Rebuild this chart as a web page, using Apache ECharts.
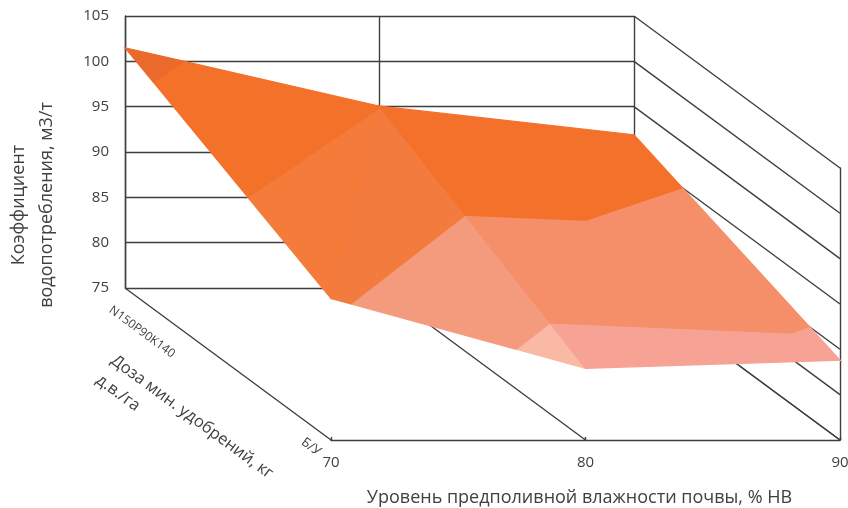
<!DOCTYPE html>
<html><head><meta charset="utf-8">
<style>html,body{margin:0;padding:0;background:#fff}#c{width:848px;height:508px}</style>
<script src="https://cdn.jsdelivr.net/npm/echarts@6/dist/echarts.min.js"></script>
</head><body><div id="c"></div>
<script>
// Data
const moisture = [70, 80, 90];
const doseLabels = ['N150P90K140', 'Б/У'];
const zBackRow = [101.5, 95.05, 91.9];   // N150P90K140
const zFrontRow = [90.6, 82.9, 83.8];    // Б/У
const valueTicks = [75, 80, 85, 90, 95, 100, 105];
const bandEdges = [75, 80, 85, 90, 95, 100, 105];
const xTitle = 'Уровень предполивной влажности почвы, % НВ';
const yTitle = 'Коэффициент\nводопотребления, м3/т';
const doseTitle = ['Доза мин. удобрений, кг', 'д.в./га'];

// Facet colours by band (75-80, 80-85, 85-90, 90-95, 95-100, 100-105)
const facetColors = [
  ['#f8b7a2', '#f8b7a2', '#f59c7e', '#f47b3a', '#f37129', '#ea6a2c'],
  ['#f9b9a5', '#f9b9a5', '#f59b7d', '#f37b3d', '#f37129', '#ea6a2c'],
  ['#f6a396', '#f6a396', '#f58f6a', '#f4712c', '#f4712c', '#f4712c'],
  ['#f6a396', '#f6a396', '#f58f6a', '#f4712c', '#f4712c', '#f4712c']
];

const DEPTH_X = 8.094, DEPTH_Z = 16.76;   // oblique depth, in axis units
const FONT = '"Open Sans", sans-serif', INK = '#404040', LINE = '#3f3f3f';

const V = (i, d) => ({x: moisture[i], d: d, z: d ? zFrontRow[i] : zBackRow[i]});
const facets = [
  [V(0,0), V(1,0), V(0,1)],
  [V(1,0), V(0,1), V(1,1)],
  [V(1,0), V(2,0), V(2,1)],
  [V(1,0), V(2,1), V(1,1)]
];
function clip(poly, level, keepAbove) {
  const out = [];
  poly.forEach((a, i) => {
    const b = poly[(i + 1) % poly.length];
    const ain = keepAbove ? a.z >= level : a.z <= level;
    const bin = keepAbove ? b.z >= level : b.z <= level;
    if (ain) out.push(a);
    if (ain !== bin) {
      const t = (level - a.z) / (b.z - a.z);
      out.push({x: a.x + t * (b.x - a.x), d: a.d + t * (b.d - a.d), z: level});
    }
  });
  return out;
}
const pieces = [];
facets.forEach((f, fi) => {
  for (let b = 0; b < bandEdges.length - 1; b++) {
    let p = clip(f, bandEdges[b], true);
    if (p.length) p = clip(p, bandEdges[b + 1], false);
    if (p.length > 2) pieces.push({pts: p, color: facetColors[fi][b]});
  }
});
const project = (api, x, d, z) => api.coord([x + d * DEPTH_X, z - d * DEPTH_Z]);

// wall / floor lines in (x,d,z)
const wallLines = [];
moisture.forEach(x => wallLines.push([[x, 0, 75], [x, 1, 75]]));
valueTicks.forEach(z => wallLines.push([[90, 0, z], [90, 1, z]]));

const lineStyle = {color: LINE, width: 1.4};
const chart = echarts.init(document.getElementById('c'), null, {renderer: 'canvas'});
const rot = -36.3 * Math.PI / 180;
const rotText = (text, x, y, size) => ({
  type: 'text', x: x, y: y, rotation: rot, originX: 0, originY: 0,
  style: {text: text, x: 0, y: 0, align: 'center', verticalAlign: 'middle', font: size + 'px ' + FONT, fill: INK}
});
chart.setOption({
  animation: false,
  backgroundColor: '#fff',
  grid: [
    {left: 125, top: 16, width: 509, height: 272, outerBoundsMode: 'none'},
    {left: 331, top: 168, width: 509, height: 272, outerBoundsMode: 'none'}
  ],
  xAxis: [
    {type: 'value', gridIndex: 0, min: 70, max: 90, interval: 10,
     axisLine: {show: false}, axisTick: {show: false}, axisLabel: {show: false},
     splitLine: {show: true, lineStyle: lineStyle}},
    {type: 'value', gridIndex: 1, min: 70, max: 90, interval: 10,
     axisLine: {show: true, onZero: false, lineStyle: lineStyle},
     axisTick: {show: true, inside: true, length: 3, lineStyle: lineStyle},
     axisLabel: {show: true, margin: 15, fontSize: 15, fontFamily: FONT, color: INK, hideOverlap: false,
                 showMinLabel: true, showMaxLabel: true},
     splitLine: {show: false},
     name: xTitle, nameLocation: 'middle', nameGap: 49,
     nameTextStyle: {fontSize: 18, fontFamily: FONT, color: INK, padding: [0, 12, 0, 0]}}
  ],
  yAxis: [
    {type: 'value', gridIndex: 0, min: 75, max: 105, interval: 5,
     axisLine: {show: true, onZero: false, lineStyle: lineStyle}, axisTick: {show: false},
     axisLabel: {show: true, margin: 16, fontSize: 15, fontFamily: FONT, color: INK},
     splitLine: {show: true, lineStyle: lineStyle},
     name: yTitle, nameLocation: 'middle', nameGap: 64, nameRotate: 90,
     nameTextStyle: {fontSize: 18, fontFamily: FONT, color: INK, lineHeight: 28, padding: [0, 106, 0, 0]}},
    {type: 'value', gridIndex: 1, min: 75, max: 105, interval: 5, position: 'right',
     axisLine: {show: true, onZero: false, lineStyle: lineStyle}, axisTick: {show: false},
     axisLabel: {show: false}, splitLine: {show: false}}
  ],
  series: [
    {type: 'custom', coordinateSystem: 'cartesian2d', xAxisIndex: 0, yAxisIndex: 0, z: 2, silent: true,
     data: wallLines.map((_, i) => [i]),
     renderItem: (p, api) => {
       const l = wallLines[api.value(0)];
       const a = project(api, l[0][0], l[0][1], l[0][2]), b = project(api, l[1][0], l[1][1], l[1][2]);
       return {type: 'line', shape: {x1: a[0], y1: a[1], x2: b[0], y2: b[1]},
               style: {stroke: LINE, lineWidth: 1.4, fill: null}};
     }},
    {type: 'custom', coordinateSystem: 'cartesian2d', xAxisIndex: 0, yAxisIndex: 0, z: 3, silent: true,
     data: pieces.map((_, i) => [i]),
     renderItem: (p, api) => {
       const piece = pieces[api.value(0)];
       return {type: 'polygon', shape: {points: piece.pts.map(v => project(api, v.x, v.d, v.z))},
               style: {fill: piece.color, stroke: piece.color, lineWidth: 1.2}};
     }}
  ],
  graphic: [
    rotText(doseLabels[0], 142, 332, 12),
    rotText(doseLabels[1], 311, 447, 13),
    rotText(doseTitle[0], 192, 417, 16.5),
    rotText(doseTitle[1], 118, 393, 16.5)
  ]
});
</script></body></html>
